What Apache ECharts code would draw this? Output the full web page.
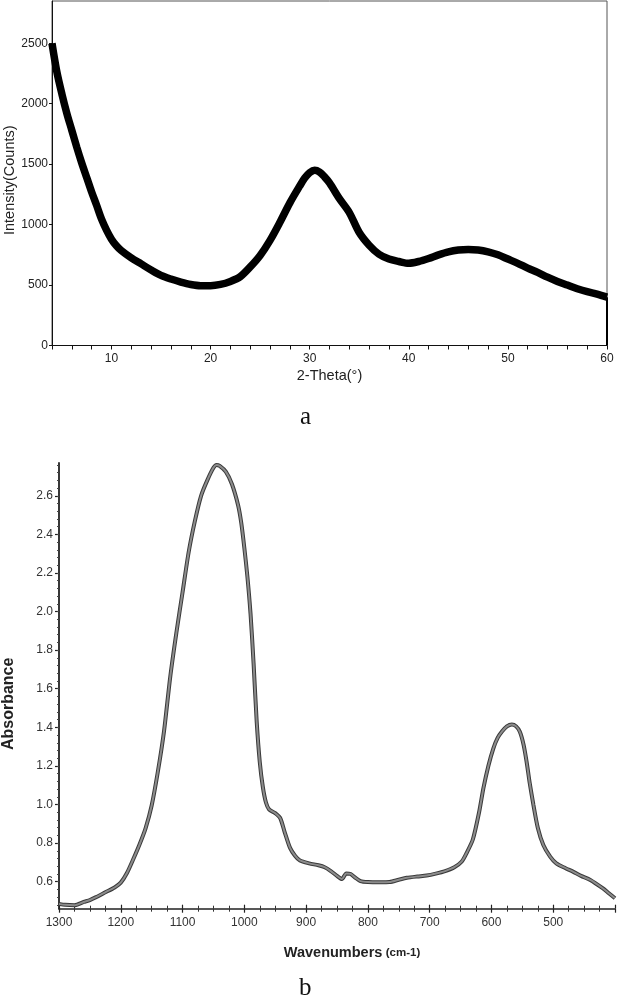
<!DOCTYPE html>
<html>
<head>
<meta charset="utf-8">
<script src="https://cdn.jsdelivr.net/npm/echarts@6/dist/echarts.min.js"></script>
<style>
html,body{margin:0;padding:0;background:#fff;}
#chart{width:617px;height:1002px;}
</style>
</head>
<body>
<div id="chart"></div>
<script>
// ---- Panel a: XRD pattern ----
const xrdTheta = [4,4.5,5,5.5,6,6.5,7,7.5,8,8.5,9,9.5,10,10.5,11,12,13,14,15,16,17,18,19,20,21,22,23,24,25,26,27,28,29,29.5,30,30.5,31,31.5,32,33,34,35,36,37,38,39,40,41,42,43,44,45,46,47,48,49,50,51,52,53,54,55,56,57,58,59,60,60];
const xrdCounts = [2500,2260,2080,1920,1780,1640,1510,1390,1270,1160,1045,955,880,825,785,725,675,625,580,550,525,505,495,495,505,530,570,650,745,870,1020,1180,1320,1385,1430,1450,1435,1395,1345,1215,1100,935,830,755,715,695,680,695,720,750,775,790,795,790,775,750,715,680,640,605,565,530,500,470,445,425,400,0];

// ---- Panel b: FTIR spectrum ----
const ftirWave = [1300,1290,1275,1260,1250,1240,1225,1210,1200,1190,1180,1170,1160,1150,1140,1130,1120,1110,1100,1090,1080,1070,1060,1050,1045,1040,1030,1020,1010,1005,1000,995,990,985,980,975,970,965,960,950,942,935,926,918,910,895,880,870,860,850,842,835,828,820,812,800,780,765,750,737,720,705,690,675,660,648,640,630,620,613,605,597,590,583,575,567,560,554,548,543,538,532,525,516,505,495,480,468,455,440,420,410,400];
const ftirAbs = [0.485,0.480,0.478,0.495,0.505,0.520,0.545,0.570,0.595,0.645,0.715,0.790,0.875,0.995,1.17,1.38,1.66,1.89,2.10,2.31,2.47,2.60,2.68,2.745,2.76,2.755,2.725,2.66,2.55,2.46,2.33,2.18,1.99,1.73,1.43,1.22,1.09,1.01,0.975,0.955,0.93,0.86,0.775,0.735,0.71,0.695,0.685,0.675,0.655,0.63,0.614,0.643,0.64,0.62,0.603,0.598,0.597,0.598,0.61,0.62,0.627,0.632,0.642,0.655,0.675,0.705,0.75,0.82,0.96,1.085,1.20,1.29,1.345,1.378,1.405,1.415,1.405,1.377,1.31,1.22,1.11,0.997,0.88,0.79,0.73,0.695,0.670,0.652,0.63,0.609,0.566,0.54,0.514];
const ftirYLabels = [0.6,0.8,1.0,1.2,1.4,1.6,1.8,2.0,2.2,2.4,2.6];
const ftirYMinor = [];
for (let v = 0.48; v < 2.77; v += 0.04) ftirYMinor.push(Math.round(v * 100) / 100);

const zip = (xs, ys) => xs.map((x, i) => [x, ys[i]]);
const xrdMain = zip(xrdTheta.slice(0, -1), xrdCounts.slice(0, -1));
const xrdDrop = zip(xrdTheta.slice(-2), xrdCounts.slice(-2));
const ftirData = zip(ftirWave, ftirAbs);

const sans = 'Liberation Sans, Arial, sans-serif';
const chart = echarts.init(document.getElementById('chart'), null, {renderer: 'canvas'});
chart.setOption({
  animation: false,
  backgroundColor: '#fff',
  grid: [
    {left: 52, right: 10, top: 1, height: 344.5, show: true, borderColor: '#555', borderWidth: 1,
      backgroundColor: 'transparent', containLabel: false, outerBoundsMode: 'none'},
    {left: 59, right: 2, top: 463, height: 445.7, containLabel: false, outerBoundsMode: 'none'}
  ],
  xAxis: [
    {
      type: 'value', gridIndex: 0, position: 'bottom', min: 4, max: 60, interval: 2,
      name: '2-Theta(°)', nameLocation: 'middle', nameGap: 23,
      nameTextStyle: {fontSize: 14.5, color: '#222', fontFamily: sans},
      axisLine: {lineStyle: {color: '#111', width: 1}},
      axisTick: {length: 4, lineStyle: {color: '#111'}},
      axisLabel: {margin: 7, fontSize: 12, color: '#222', fontFamily: sans,
        formatter: v => (v % 10 === 0 ? String(v) : '')},
      splitLine: {show: false}
    },
    {
      type: 'value', gridIndex: 1, position: 'bottom', min: 400, max: 1300, interval: 100, inverse: true,
      name: '{w|Wavenumbers} {c|(cm-1)}', nameLocation: 'middle', nameGap: 37,
      nameTextStyle: {padding: [0, 0, 0, 30], rich: {
        w: {fontSize: 14.5, fontWeight: 'bold', color: '#222', fontFamily: sans},
        c: {fontSize: 11.5, fontWeight: 'bold', color: '#222', fontFamily: sans}
      }},
      axisLine: {lineStyle: {color: '#222', width: 1.5}},
      axisTick: {length: 4, lineStyle: {color: '#222', width: 1.2}},
      minorTick: {show: true, splitNumber: 4, length: 3, lineStyle: {color: '#333'}},
      axisLabel: {margin: 8, fontSize: 12, color: '#333', fontFamily: sans, showMinLabel: false,
        formatter: v => String(v)},
      splitLine: {show: false}
    },
    {
      type: 'value', gridIndex: 1, position: 'bottom', offset: 0, min: 400, max: 1300, interval: 100, inverse: true,
      axisLine: {show: false},
      axisTick: {inside: true, length: 4, lineStyle: {color: '#222', width: 1.2}},
      minorTick: {show: true, splitNumber: 4, length: 3, lineStyle: {color: '#333'}},
      axisLabel: {show: false},
      splitLine: {show: false}
    }
  ],
  yAxis: [
    {
      type: 'value', gridIndex: 0, position: 'left', min: 0, max: 2850, interval: 500,
      name: 'Intensity(Counts)', nameLocation: 'middle', nameGap: 35, nameMoveOverlap: false,
      nameTextStyle: {fontSize: 14.5, color: '#222', fontFamily: sans, padding: [0, 14, 0, 0]},
      axisLine: {show: true, lineStyle: {color: '#111', width: 1}},
      axisTick: {show: true, length: 3, lineStyle: {color: '#111'}},
      axisLabel: {margin: 4, fontSize: 12, color: '#222', fontFamily: sans, showMaxLabel: false,
        formatter: v => String(v)},
      splitLine: {show: false}
    },
    {
      type: 'value', gridIndex: 1, position: 'left', min: 0.46, max: 2.77,
      name: 'Absorbance', nameLocation: 'middle', nameGap: 42,
      nameTextStyle: {fontSize: 16, fontWeight: 'bold', color: '#222', fontFamily: sans, padding: [0, 36, 0, 0]},
      axisLine: {show: true, lineStyle: {color: '#222', width: 1.8}},
      axisTick: {show: true, length: 4, customValues: ftirYLabels, lineStyle: {color: '#222', width: 1.2}},
      axisLabel: {margin: 6, fontSize: 12, color: '#333', fontFamily: sans, customValues: ftirYLabels,
        formatter: v => Number(v).toFixed(1)},
      splitLine: {show: false}
    },
    {
      type: 'value', gridIndex: 1, position: 'left', offset: 0, min: 0.46, max: 2.77,
      axisLine: {show: false},
      axisTick: {show: true, length: 2, customValues: ftirYMinor, lineStyle: {color: '#444'}},
      axisLabel: {show: false},
      splitLine: {show: false}
    }
  ],
  series: [
    {type: 'line', xAxisIndex: 0, yAxisIndex: 0, data: xrdMain, showSymbol: false, smooth: 0.3,
      lineStyle: {color: '#000', width: 7.5}},
    {type: 'line', xAxisIndex: 0, yAxisIndex: 0, data: xrdDrop, showSymbol: false,
      lineStyle: {color: '#000', width: 2}},
    {type: 'line', xAxisIndex: 1, yAxisIndex: 1, data: ftirData, showSymbol: false, smooth: 0.25,
      lineStyle: {color: '#3a3a3a', width: 4}},
    {type: 'line', xAxisIndex: 1, yAxisIndex: 1, data: ftirData, showSymbol: false, smooth: 0.25,
      lineStyle: {color: '#8c8c8c', width: 2}}
  ],
  graphic: [
    {type: 'text', left: 300, top: 405, style: {text: 'a', fontSize: 25, fontFamily: 'Liberation Serif, Times New Roman, serif', fill: '#111'}},
    {type: 'text', left: 299, top: 976, style: {text: 'b', fontSize: 25, fontFamily: 'Liberation Serif, Times New Roman, serif', fill: '#111'}}
  ]
});
</script>
</body>
</html>
